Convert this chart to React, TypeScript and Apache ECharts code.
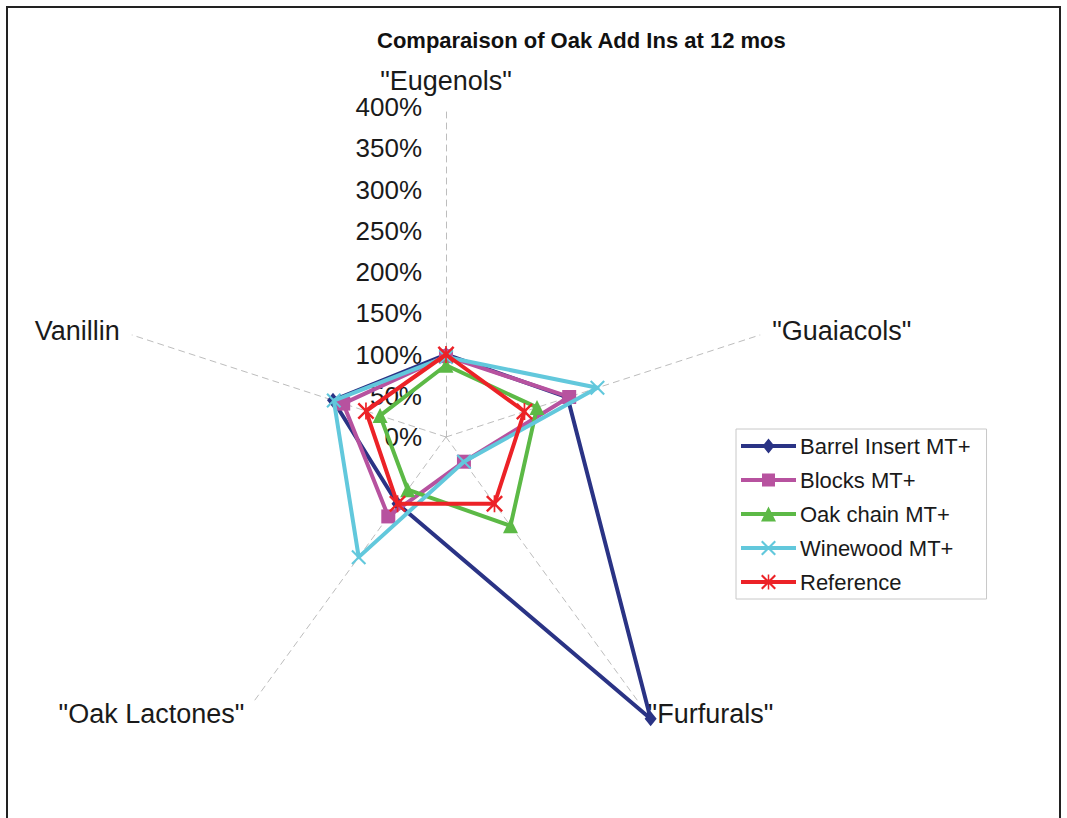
import React, { useEffect, useRef } from "react";
import * as echarts from "echarts";

// ---- data (reference order, clockwise from the top) ----
const categories = ['"Eugenols"', '"Guaiacols"', '"Furfurals"', '"Oak Lactones"', "Vanillin"];
const seriesNames = ["Barrel Insert MT+", "Blocks MT+", "Oak chain MT+", "Winewood MT+", "Reference"];
const barrelInsert = [100, 155, 422, 100, 144];
const blocks = [98, 157, 37, 119, 131];
const oakChain = [87, 116, 133, 79, 84];
const winewood = [97, 193, 37, 180, 143];
const reference = [100, 100, 100, 100, 102];
const axisMin = 0;
const axisMax = 400;
const axisStep = 50;
const titleText = "Comparaison of Oak Add Ins at 12 mos";

// ECharts lays indicators counter-clockwise from the top; the reference runs clockwise.
const drawOrder = [0, 4, 3, 2, 1];

const FONT = "'Liberation Sans', Arial, Helvetica, sans-serif";
const colors = ["#2a3385", "#b7529f", "#5cb946", "#62c8dc", "#ec2227"];

const X_SUB = "M0,1.5L1.5,0L7.5,6L13.5,0L15,1.5L9,7.5L15,13.5L13.5,15L7.5,9L1.5,15L0,13.5L6,7.5Z";
const STAR_SUB = X_SUB + " M6.75,0H8.25V15H6.75Z";

const LINE_SUB = "M0,5.5H55V9.5H0Z";
const legendSymbols = [
  "M27.5,0L33.5,7.5L27.5,15L21.5,7.5Z",
  "M21,1H34V14H21Z",
  "M27.5,0L35,15H20Z",
  "M20,1.5L21.5,0L27.5,6L33.5,0L35,1.5L29,7.5L35,13.5L33.5,15L27.5,9L21.5,15L20,13.5L26,7.5Z",
  "M20,1.5L21.5,0L27.5,6L33.5,0L35,1.5L29,7.5L35,13.5L33.5,15L27.5,9L21.5,15L20,13.5L26,7.5Z M26.75,0H28.25V15H26.75Z",
];
const legendIcons = legendSymbols.map((s) => "path://" + LINE_SUB + " " + s);

const seriesValues = [barrelInsert, blocks, oakChain, winewood, reference];
const seriesSymbols: any[] = ["diamond", "rect", "triangle", "path://" + X_SUB, "path://" + STAR_SUB];
const symbolSizes: any[] = [[12, 15], 14, 15, 15, 17];

export default function App() {
  const ref = useRef<HTMLDivElement>(null);

  useEffect(() => {
    if (!ref.current) return;
    const chart = echarts.init(ref.current, null, { renderer: "svg" });

    const indicator = drawOrder.map((k, j) => {
      const ind: any = { name: categories[k], min: axisMin, max: axisMax };
      if (j === 0) {
        ind.axisLabel = {
          show: true,
          formatter: "{value}%",
          margin: 24,
          fontSize: 26,
          color: "#1a1a1a",
          fontFamily: FONT,
        };
      }
      return ind;
    });

    const series = seriesNames.map((name, i) => ({
      type: "radar",
      name,
      symbol: seriesSymbols[i],
      symbolSize: symbolSizes[i],
      lineStyle: { color: colors[i], width: 4 },
      itemStyle: { color: colors[i], borderWidth: 0 },
      z: 2 + i,
      data: [{ name, value: drawOrder.map((k) => seriesValues[i][k]) }],
    }));

    const option: any = {
      animation: false,
      backgroundColor: "#ffffff",
      title: {
        text: titleText,
        left: 372,
        top: 24,
        textStyle: { fontFamily: FONT, fontSize: 22, fontWeight: "bold", color: "#111" },
      },
      legend: {
        orient: "vertical",
        left: 736,
        top: 429,
        padding: [6, 16, 6, 5],
        itemGap: 12,
        itemWidth: 55,
        itemHeight: 15,
        borderColor: "#c8c8c8",
        borderWidth: 1,
        borderRadius: 0,
        backgroundColor: "#fff",
        selectedMode: false,
        itemStyle: { borderWidth: 0 },
        textStyle: { fontSize: 22, lineHeight: 22, color: "#1a1a1a", fontFamily: FONT, padding: [0, 0, 0, -1] },
        data: seriesNames.map((n, i) => ({ name: n, icon: legendIcons[i] })),
      },
      radar: {
        center: [446, 437],
        radius: 330,
        startAngle: 90,
        shape: "polygon",
        splitNumber: (axisMax - axisMin) / axisStep,
        nameGap: 13,
        axisName: { color: "#1a1a1a", fontSize: 27, fontFamily: FONT },
        axisLine: { lineStyle: { color: "#bdbdbd", width: 1, type: [6, 5] } },
        axisTick: { show: false },
        axisLabel: { show: false },
        splitLine: { show: false },
        splitArea: { show: false },
        indicator,
      },
      graphic: [
        {
          type: "rect",
          silent: true,
          z: -10,
          shape: { x: 7, y: 7, width: 1053, height: 840 },
          style: { fill: "none", stroke: "#222", lineWidth: 2 },
        },
      ],
      series,
    };

    chart.setOption(option);
    return () => chart.dispose();
  }, []);

  return (
    <div
      ref={ref}
      style={{ position: "absolute", left: 0, top: 0, width: 1067, height: 818 }}
    />
  );
}
